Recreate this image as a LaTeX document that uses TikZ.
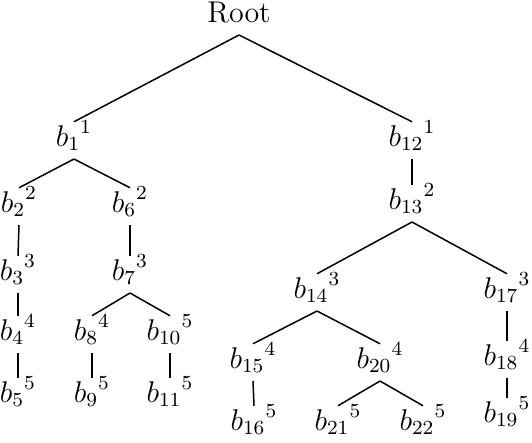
\documentclass[tikz,border=0pt]{standalone}
\usepackage{amsmath}
\usepackage{tikz}
\tikzset{
  vert/.style={anchor=base, inner xsep=1pt, inner ysep=1.5pt,
               text height=8pt, text depth=3.5pt,
               font=\fontsize{12}{14.4}\selectfont},
  edge/.style={semithick, black},
}
\begin{document}
\begin{tikzpicture}[x=0.4pt, y=-0.4pt]
  \useasboundingbox (0,0) rectangle (532,442);
  %% Root
  \node[vert] (root) at (239,22) {Root};
  %% Branch nodes: index/x/baseline/level
  \foreach \n/\x/\y/\l in {1/74/146/1, 2/19/212/2, 3/18/280/3, 4/18/340/4,
      5/18/402/5, 6/130/212/2, 7/130/280/3, 8/92/340/4, 9/92/402/5,
      10/170/340/5, 11/170/402/5, 12/412/146/1, 13/412/209/2,
      14/317/298/3, 15/253/368/4, 16/254/430/5, 17/507/298/3,
      18/507/365/4, 19/507/422/5, 20/380/368/4, 21/338/430/5, 22/423/430/5}
    \node[vert] (b\n) at (\x,\y) {${b_{\n}}^{\l}$};
  %% Edges
  \foreach \a/\b in {root/b1, root/b12, b1/b2, b1/b6, b2/b3, b3/b4, b4/b5,
      b6/b7, b7/b8, b7/b10, b8/b9, b10/b11, b12/b13, b13/b14, b13/b17,
      b14/b15, b14/b20, b15/b16, b20/b21, b20/b22, b17/b18, b18/b19}
    \draw[edge] (\a.south) -- (\b.north);
\end{tikzpicture}
\end{document}
